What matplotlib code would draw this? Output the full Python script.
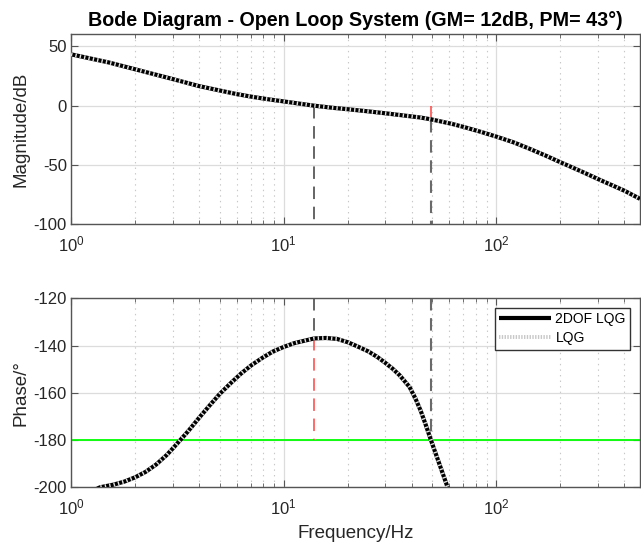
import numpy as np
import matplotlib
matplotlib.use("Agg")
import matplotlib.pyplot as plt
from matplotlib.ticker import LogLocator, NullFormatter, FixedLocator

plt.rcParams['font.family'] = ['Liberation Sans', 'DejaVu Sans']
plt.rcParams['mathtext.fontset'] = 'custom'
plt.rcParams['mathtext.rm'] = 'Liberation Sans'
plt.rcParams['mathtext.it'] = 'Liberation Sans:italic'
plt.rcParams['axes.unicode_minus'] = False
plt.rcParams['lines.scale_dashes'] = False

# Open-loop magnitude response (Hz, dB)
mag_freq = [1.0, 1.5, 2.0, 3.0, 4.0, 5.0, 6.0, 7.2, 8.6, 10.0, 12.0, 13.9, 17.0,
            20.0, 25.0, 30.0, 38.0, 44.0, 49.2, 54.5, 62.0, 71.0, 85.0, 100.0,
            120.0, 140.0, 170.0, 200.0, 250.0, 300.0, 350.0, 400.0, 473.0]
mag_db = [43.3, 36.5, 30.7, 22.5, 16.5, 12.8, 9.8, 7.3, 5.2, 3.6, 1.6, 0.0, -1.8,
          -3.0, -4.8, -6.4, -8.6, -10.0, -11.5, -13.2, -15.4, -18.2, -22.2, -26.1,
          -30.8, -35.6, -42.0, -47.7, -55.3, -61.8, -67.1, -71.7, -78.5]

# Open-loop phase response (Hz, deg)
ph_freq = [1.26, 1.37, 1.58, 1.78, 2.0, 2.24, 2.51, 2.82, 3.0, 3.19, 3.55, 4.0,
           4.47, 5.0, 5.62, 6.31, 7.08, 7.94, 8.91, 10.0, 11.2, 12.6, 13.9, 15.8,
           17.8, 20.0, 22.0, 25.0, 27.5, 30.0, 32.5, 35.0, 39.0, 41.5, 44.0, 46.5,
           49.2, 54.0, 58.0, 62.0]
ph_deg = [-201.5, -200.0, -198.9, -197.6, -195.8, -193.5, -190.4, -186.3, -183.7,
          -181.0, -176.3, -170.6, -165.5, -160.5, -156.0, -151.8, -148.2, -145.2,
          -142.5, -140.6, -139.0, -137.9, -137.0, -136.8, -137.2, -138.6, -140.2,
          -142.5, -144.8, -147.3, -149.8, -152.5, -157.5, -162.2, -167.5, -173.5,
          -180.0, -190.3, -198.2, -206.0]

# Stability margins
gm_db = 12.0
pm_deg = 43.0
f_gc = 13.9   # gain crossover frequency, Hz
f_pc = 49.2   # phase crossover frequency, Hz

x_lim = (1.0, 473.0)
mag_lim = (-100, 60)
ph_lim = (-200, -120)

fig = plt.figure(figsize=(6.41, 5.45), dpi=100)
ax1 = fig.add_axes([0.1108, 0.5884, 0.8876, 0.3483])
ax2 = fig.add_axes([0.1108, 0.1059, 0.8876, 0.3468])

txt = '#262626'
grid_c = '#dcdcdc'


def style(ax):
    ax.set_xscale('log')
    ax.set_xlim(*x_lim)
    ax.xaxis.set_major_locator(FixedLocator([1, 10, 100]))
    ax.xaxis.set_minor_locator(LogLocator(base=10, subs=np.arange(2, 10), numticks=20))
    ax.xaxis.set_minor_formatter(NullFormatter())
    ax.grid(True, which='major', color=grid_c, lw=0.9, ls='-')
    ax.grid(True, which='minor', axis='x', color='#c8c8c8', lw=0.8, ls=(0, (1, 3)))
    ax.set_axisbelow(True)
    for s in ax.spines.values():
        s.set_color('#555555')
        s.set_linewidth(1.0)
    ax.tick_params(which='both', direction='in', top=True, right=True,
                   colors='#555555', labelcolor=txt, labelsize=12)
    ax.tick_params(which='major', length=5)
    ax.tick_params(which='minor', length=3)
    ax.tick_params(axis='y', pad=3)
    ax.tick_params(axis='x', pad=7)


style(ax1)
style(ax2)

dash_k = (0, (9, 5.5))
curve_dots = (0, (1.0, 2.2))
# magnitude plot
ax1.plot(mag_freq, mag_db, color='black', lw=3.0, solid_capstyle='butt', zorder=3)
ax1.plot(mag_freq, mag_db, color='#e2e2e2', lw=2.8, ls=curve_dots, zorder=4)
ax1.plot([f_gc, f_gc], [0, mag_lim[0]], color='#3a3a3a', lw=1.1, ls=dash_k, zorder=2)
ax1.plot([f_pc, f_pc], [-gm_db, mag_lim[0]], color='#6a6a6a', lw=1.5, ls=dash_k, zorder=2)
ax1.plot([f_pc, f_pc], [0, -gm_db], color='#ff5050', lw=1.2, ls=dash_k, zorder=2)
ax1.set_ylim(*mag_lim)
ax1.set_yticks([-100, -50, 0, 50])
ax1.set_ylabel('Magnitude/dB', fontsize=13.5, color=txt, labelpad=3)
ax1.set_title('Bode Diagram - Open Loop System (GM= 12dB, PM= 43°)',
              fontsize=14.2, fontweight='bold', color='black', pad=6)

# phase plot
h1, = ax2.plot(ph_freq, ph_deg, color='black', lw=3.0, solid_capstyle='butt', zorder=3,
               label='2DOF LQG')
h2, = ax2.plot(ph_freq, ph_deg, color='#e2e2e2', lw=2.8, ls=curve_dots, zorder=4,
               label='LQG')
ax2.axhline(-180, color='#00ff00', lw=1.3, zorder=2)
ax2.plot([f_gc, f_gc], [ph_lim[1], -180 + pm_deg], color='#3a3a3a', lw=1.1, ls=dash_k, zorder=2)
ax2.plot([f_gc, f_gc], [-180 + pm_deg, -180], color='#ff5050', lw=1.2, ls=dash_k, zorder=2)
ax2.plot([f_pc, f_pc], [ph_lim[1], -180], color='#6a6a6a', lw=1.5, ls=dash_k, zorder=2)
ax2.set_ylim(*ph_lim)
ax2.set_yticks([-200, -180, -160, -140, -120])
ax2.set_ylabel('Phase/°', fontsize=13.5, color=txt, labelpad=3)
ax2.set_xlabel('Frequency/Hz', fontsize=13.5, color=txt, labelpad=6)

leg = ax2.legend(handles=[h1, h2], loc='upper right', bbox_to_anchor=(0.983, 0.950),
                 fontsize=10, frameon=True, fancybox=False, framealpha=1,
                 edgecolor='#333333', handlelength=3.75, handletextpad=0.3,
                 borderpad=0.32, labelspacing=0.37, borderaxespad=0)
leg.get_frame().set_linewidth(1.0)
leg.legend_handles[1].set_color('#c8c8c8')
leg.legend_handles[1].set_linestyle((0, (1, 1)))

fig.savefig('out.png', dpi=100)
